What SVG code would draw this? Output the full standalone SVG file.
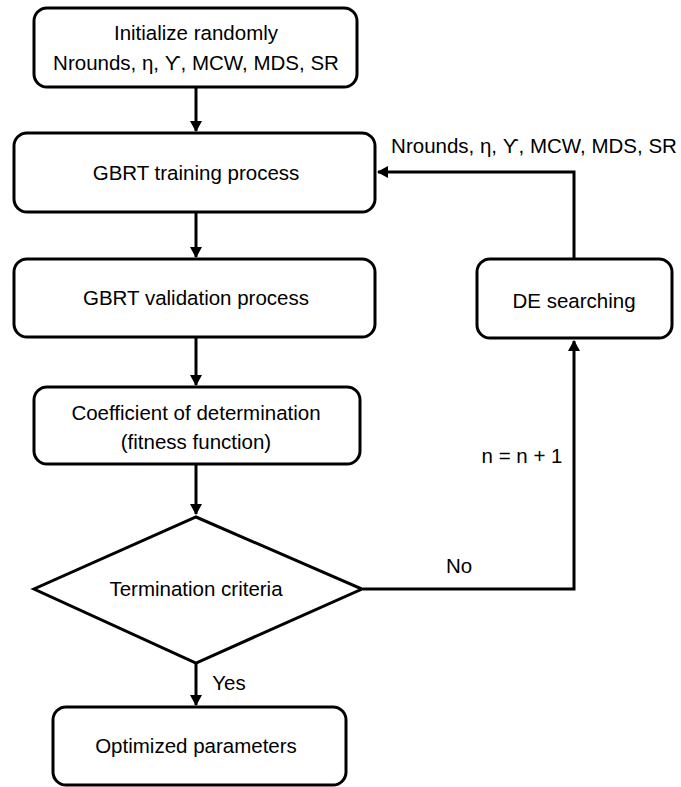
<svg xmlns="http://www.w3.org/2000/svg" width="681" height="787" viewBox="0 0 681 787">
<style>
.box{fill:#fff;stroke:#000;stroke-width:3}
.t{font-family:"Liberation Sans",Arial,sans-serif;font-size:20.5px;fill:#000;text-anchor:middle}
.c{fill:none;stroke:#000;stroke-width:3}
</style>
<defs>
<marker id="ah" markerWidth="12" markerHeight="12" refX="10" refY="6" orient="auto" markerUnits="userSpaceOnUse">
<path d="M0,0 L11,6 L0,12 Z" fill="#000"/>
</marker>
</defs>
<rect width="681" height="787" fill="#fff"/>
<g id="connectors">
<line class="c" x1="196" y1="87" x2="196" y2="131" marker-end="url(#ah)"/>
<line class="c" x1="196" y1="212" x2="196" y2="257" marker-end="url(#ah)"/>
<line class="c" x1="196" y1="337" x2="196" y2="385" marker-end="url(#ah)"/>
<line class="c" x1="196" y1="464" x2="196" y2="514" marker-end="url(#ah)"/>
<line class="c" x1="196" y1="663" x2="196" y2="705" marker-end="url(#ah)"/>
<polyline class="c" points="363,589 574,589 574,341" marker-end="url(#ah)"/>
<polyline class="c" points="574,259 574,172 378,172" marker-end="url(#ah)"/>
<text class="t" x="534" y="153">Nrounds, η, ϒ, MCW, MDS, SR</text>
<text class="t" x="522" y="463">n = n + 1</text>
<text class="t" x="459" y="573">No</text>
<text class="t" x="229" y="690">Yes</text>
</g>
<g id="init">
<rect class="box" x="34" y="8" width="323" height="79" rx="13"/>
<text class="t" x="196" y="40">Initialize randomly</text>
<text class="t" x="196" y="70">Nrounds, η, ϒ, MCW, MDS, SR</text>
</g>
<g id="train">
<rect class="box" x="14" y="133" width="361" height="79" rx="13"/>
<text class="t" x="196" y="180">GBRT training process</text>
</g>
<g id="valid">
<rect class="box" x="14" y="259" width="361" height="78" rx="13"/>
<text class="t" x="196" y="305">GBRT validation process</text>
</g>
<g id="coef">
<rect class="box" x="34" y="387" width="326" height="77" rx="13"/>
<text class="t" x="196" y="420">Coefficient of determination</text>
<text class="t" x="196" y="449">(fitness function)</text>
</g>
<g id="term">
<polygon class="box" points="196,517 362,589 196,663 34,589"/>
<text class="t" x="196" y="596">Termination criteria</text>
</g>
<g id="opt">
<rect class="box" x="53" y="707" width="293" height="78" rx="13"/>
<text class="t" x="196" y="753">Optimized parameters</text>
</g>
<g id="de">
<rect class="box" x="477" y="259" width="195" height="79" rx="13"/>
<text class="t" x="574" y="308">DE searching</text>
</g>
</svg>
